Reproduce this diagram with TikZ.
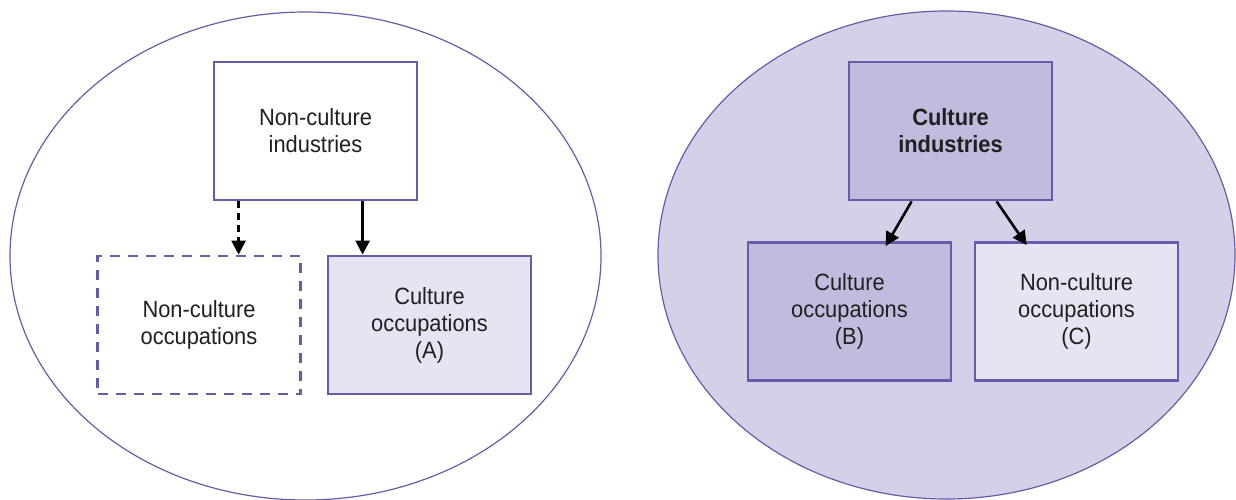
\documentclass[tikz,border=0pt]{standalone}
\usepackage{fontspec}
\setmainfont{Liberation Sans}[FakeStretch=0.93]
\usetikzlibrary{arrows.meta}
\definecolor{edgepurple}{HTML}{6A5AAA}
\definecolor{ovalfill}{HTML}{D5D0E7}
\definecolor{darkbox}{HTML}{C2BBDD}
\definecolor{lightbox}{HTML}{E6E3F2}
\definecolor{txt}{HTML}{231F20}
\tikzset{
  oval/.style={draw=edgepurple, line width=1.2pt},
  box/.style={draw=edgepurple, line width=2.8pt, rectangle, minimum width=203pt,
    minimum height=138pt, align=center, text=txt, font=\fontsize{23.5}{27}\selectfont,
    inner sep=0pt},
  dashbox/.style={box, dash pattern=on 10pt off 8pt},
  link/.style={draw=black, line width=2.6pt, -{Triangle[length=14pt,width=14pt]}},
  dashlink/.style={link, dash pattern=on 7pt off 5pt}
}
\begin{document}
\begin{tikzpicture}[x=1pt, y=-1pt]
  \useasboundingbox (0,0) rectangle (1236,499);

  % left oval: non-culture industries
  \draw[oval, fill=white] (305.5,256) ellipse [x radius=295.5, y radius=244];
  % right oval: culture industries
  \draw[oval, fill=ovalfill] (946.5,255) ellipse [x radius=288.5, y radius=244];

  % left group
  \node[box, fill=white] (ni) at (315.5,131) {Non-culture\\industries};
  \node[dashbox, fill=white] (nco) at (199,325) {Non-culture\\occupations};
  \node[box, fill=lightbox] (coa) at (429.5,325) {Culture\\occupations\\(A)};

  \draw[dashlink] ([xshift=26]ni.south west) -- ([xshift=26]ni.south west |- nco.north);
  \draw[link] ([xshift=150]ni.south west) -- ([xshift=150]ni.south west |- coa.north);

  % right group
  \node[box, fill=darkbox, font=\fontsize{23.5}{27}\selectfont\bfseries] (ci) at (950.5,131) {Culture\\industries};
  \node[box, fill=darkbox] (cob) at (849.5,311.5) {Culture\\occupations\\(B)};
  \node[box, fill=lightbox] (ncc) at (1076.5,311.5) {Non-culture\\occupations\\(C)};

  \draw[link] ([xshift=64]ci.south west) -- ([xshift=139,yshift=-5]cob.north west);
  \draw[link] ([xshift=149]ci.south west) -- ([xshift=53,yshift=-4]ncc.north west);
\end{tikzpicture}
\end{document}
